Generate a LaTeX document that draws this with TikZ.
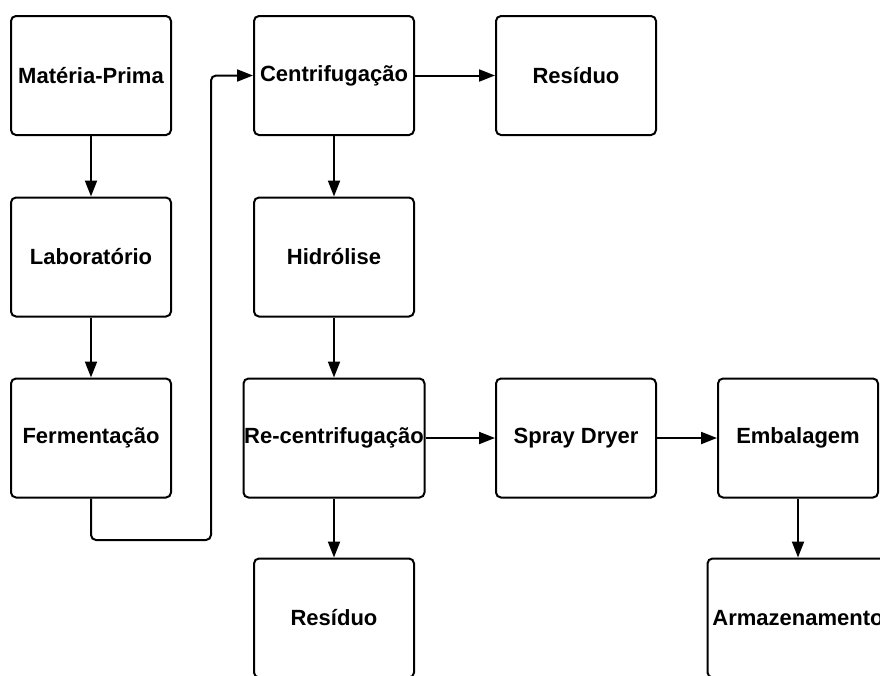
\documentclass[tikz,border=0pt]{standalone}
\usepackage{fontspec}
\setmainfont{Liberation Sans}
\usetikzlibrary{arrows.meta}

\begin{document}
\begin{tikzpicture}[x=1pt,y=-1pt,
  every node/.style={inner sep=0pt},
  etapa/.style={draw, line width=2pt, rounded corners=5pt,
    minimum width=160pt, minimum height=119pt,
    font=\fontsize{22}{26}\selectfont\bfseries},
  larga/.style={etapa, minimum width=181pt},
  seta/.style={line width=2pt, -{Triangle[length=16pt,width=12pt]}}]
\useasboundingbox (0,0) rectangle (880,675);
\clip (0,0) rectangle (880,675);
\node[etapa] (materia) at (91,75.5) {Matéria-Prima};
\node[etapa] (lab) at (91,257) {Laboratório};
\node[etapa] (ferm) at (91,438) {Fermentação};
\node[etapa] (centrif) at (334,75.5) {Centrifugação};
\node[etapa] (residuoA) at (576,75.5) {Resíduo};
\node[etapa] (hidro) at (334,257) {Hidrólise};
\node[larga] (recentrif) at (334,438) {Re-centrifugação};
\node[etapa] (spray) at (576,438) {Spray Dryer};
\node[etapa] (embal) at (798,438) {Embalagem};
\node[etapa] (residuoB) at (334,618) {Resíduo};
\node[larga] (armaz) at (798,618) {Armazenamento};
\coordinate (volta) at (211,540);
\draw[seta] (materia) -- (lab);
\draw[seta] (lab) -- (ferm);
\draw[seta, rounded corners=5pt] (ferm.south) |- (volta) |- (centrif.west);
\draw[seta] (centrif) -- (residuoA);
\draw[seta] (centrif) -- (hidro);
\draw[seta] (hidro) -- (recentrif);
\draw[seta] (recentrif) -- (spray);
\draw[seta] (recentrif) -- (residuoB);
\draw[seta] (spray) -- (embal);
\draw[seta] (embal) -- (armaz);
\end{tikzpicture}
\end{document}
